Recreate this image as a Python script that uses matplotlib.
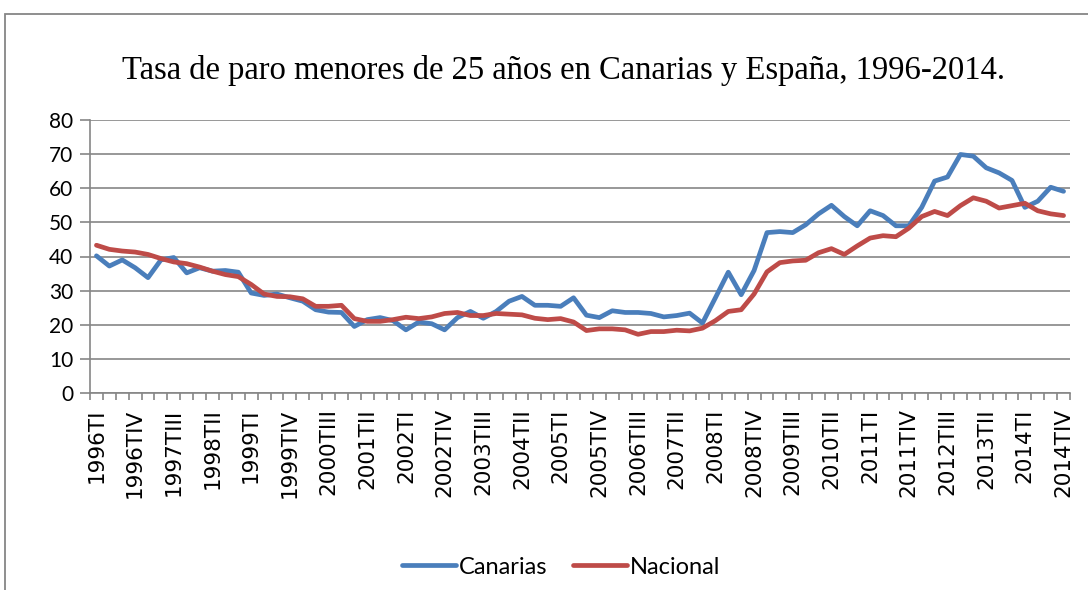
import numpy as np
import matplotlib
matplotlib.use("Agg")
import matplotlib.pyplot as plt
from matplotlib.patches import Rectangle

# quarters 1996TI .. 2014TIV
years = list(range(1996, 2015))
quarters = ["TI", "TII", "TIII", "TIV"]
labels = [f"{y}{q}" for y in years for q in quarters]

canarias = [40.2, 37.2, 39.0, 36.7, 33.8, 39.0, 39.7, 35.2, 36.7, 35.7,
            35.9, 35.4, 29.3, 28.6, 29.0, 27.9, 26.9, 24.4, 23.7,
            23.6, 19.5, 21.5, 22.1, 21.2, 18.5, 20.8, 20.3, 18.5, 22.1,
            23.9, 21.9, 23.9, 26.9, 28.3, 25.7, 25.7, 25.4, 27.9, 22.8,
            22.1, 24.1, 23.6, 23.6, 23.3, 22.3, 22.7, 23.4, 20.5, 27.9,
            35.4, 28.8, 35.9, 47.0, 47.3, 47.0, 49.3, 52.5, 55.0, 51.7,
            49.0, 53.4, 52.0, 49.0, 49.0, 54.4, 62.1, 63.3, 69.9, 69.4,
            66.0, 64.5, 62.3, 54.4, 56.2, 60.3, 59.1]
nacional = [43.3, 42.1, 41.6, 41.3, 40.6, 39.4, 38.4, 37.9, 36.9, 35.7,
            34.7, 34.1, 31.8, 29.0, 28.3, 28.2, 27.6, 25.4, 25.4,
            25.7, 21.8, 21.0, 21.0, 21.5, 22.2, 21.8, 22.3, 23.3, 23.6,
            22.7, 22.7, 23.3, 23.1, 22.9, 21.9, 21.5, 21.8, 20.8, 18.3,
            18.8, 18.8, 18.5, 17.2, 18.0, 18.0, 18.4, 18.2, 19.0, 21.2,
            23.9, 24.4, 29.0, 35.5, 38.2, 38.7, 38.9, 41.1, 42.3, 40.6,
            43.1, 45.4, 46.1, 45.8, 48.3, 51.7, 53.2, 52.0, 54.9, 57.2,
            56.2, 54.2, 54.9, 55.6, 53.4, 52.5, 52.0]

W, H = 1088, 590
fig = plt.figure(figsize=(W / 100, H / 100), dpi=100)
ax = fig.add_axes([90 / W, 1 - 393 / H, (1070 - 90) / W, (393 - 120) / H])

# outer chart frame (cut off on the right and bottom)
fig.patches.append(Rectangle((5 / W, -0.1), 1.2, 1 - 14 / H + 0.1,
                             transform=fig.transFigure, fill=False,
                             ec="#868686", lw=1.3))

x = np.arange(len(labels)) + 0.5
ax.plot(x, canarias, color="#4A7EBB", lw=3.4, label="Canarias",
        solid_capstyle="round", solid_joinstyle="round")
ax.plot(x, nacional, color="#BE4B48", lw=3.4, label="Nacional",
        solid_capstyle="round", solid_joinstyle="round")

ax.set_xlim(0, len(labels))
ax.set_ylim(0, 80)
ax.set_yticks(range(0, 81, 10))
ax.yaxis.grid(True, color="#868686", lw=1.2)
ax.set_axisbelow(True)

ax.set_xticks(x[::3])
ax.set_xticklabels(labels[::3], rotation=90, fontsize=15.5,
                   family="DejaVu Sans")
ax.set_xticks(np.arange(0, len(labels) + 1), minor=True)
ax.tick_params(axis="x", which="major", length=0, pad=11)
ax.tick_params(axis="x", which="minor", length=5, color="#868686", width=1.2)
ax.tick_params(axis="y", length=7, color="#868686", width=1.2, pad=5)
for t in ax.get_yticklabels():
    t.set_fontfamily("Lato")
    t.set_fontsize(15)

for s in ["top", "right"]:
    ax.spines[s].set_visible(False)
for s in ["left", "bottom"]:
    ax.spines[s].set_color("#868686")
    ax.spines[s].set_linewidth(1.2)

fig.text(563 / W, 1 - 70 / H,
         "Tasa de paro menores de 25 años en Canarias y España, 1996-2014.",
         ha="center", va="center", family="Liberation Serif", fontsize=23.5)

fig.legend(loc="center", bbox_to_anchor=(561 / W, 1 - 567 / H), ncol=2,
           frameon=False, prop={"family": "Lato", "size": 17},
           handlelength=2.3, handletextpad=0.1, columnspacing=1.1)

fig.savefig("out.png", dpi=100)
